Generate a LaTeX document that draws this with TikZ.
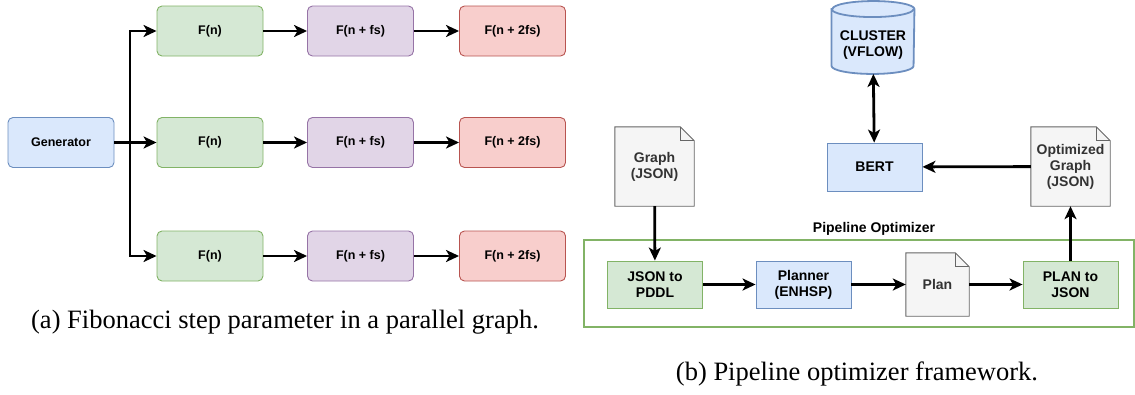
\documentclass[tikz,border=0pt]{standalone}
\usepackage{fontspec}
\setmainfont{Liberation Serif}
\newfontfamily\boxfont{Liberation Sans}
\usetikzlibrary{ arrows.meta,  % For the heavy arrow heads
                 backgrounds,  % For filling the pages and the drum behind text
               }

\definecolor{bluefill}{HTML}{DAE8FC}  \definecolor{blueline}{HTML}{6C8EBF}
\definecolor{greenfill}{HTML}{D5E8D4} \definecolor{greenline}{HTML}{82B366}
\definecolor{lilafill}{HTML}{E1D5E7}  \definecolor{lilaline}{HTML}{9673A6}
\definecolor{redfill}{HTML}{F8CECC}   \definecolor{redline}{HTML}{B85450}
\definecolor{pagefill}{HTML}{F5F5F5}  \definecolor{pageline}{HTML}{666666}
\definecolor{pagetext}{HTML}{333333}

\tikzset{
  stepbox/.style={rounded corners=5pt, line width=0.9pt, minimum width=106pt,
                  minimum height=50pt, inner sep=0pt,
                  font=\boxfont\bfseries\fontsize{12.5}{15}\selectfont},
  flowbox/.style={line width=0.9pt, minimum width=95pt, minimum height=47pt,
                  inner sep=0pt, align=center,
                  font=\boxfont\bfseries\fontsize{14}{16}\selectfont},
  page/.style={minimum width=79pt, minimum height=79pt, inner sep=0pt,
               align=center, text=pagetext,
               font=\boxfont\bfseries\fontsize{14}{16}\selectfont},
  pageline/.style={draw=pageline, fill=pagefill, line width=0.9pt},
  link/.style={line width=2.8pt, -{Stealth[length=13pt, width=12pt, inset=3.5pt]}},
  twolink/.style={line width=2.8pt,
                  {Stealth[length=13pt, width=12pt, inset=3.5pt]}-{Stealth[length=13pt, width=12pt, inset=3.5pt]}},
  caption/.style={font=\fontsize{26.5}{30}\selectfont, anchor=base},
}

% a sheet of paper with a folded corner behind node #1
\newcommand{\foldpage}[1]{%
  \begin{scope}[on background layer]
    \filldraw[pageline] (#1.north west) -- ([xshift=-14pt]#1.north east)
      -- ([yshift=-14pt]#1.north east) -- (#1.south east) -- (#1.south west) -- cycle;
    \draw[pageline, fill=none] ([xshift=-14pt]#1.north east) |- ([yshift=-14pt]#1.north east);
  \end{scope}}

\begin{document}
\begin{tikzpicture}[x=1pt, y=-1pt] % one unit is one pixel of the drawing
  \useasboundingbox (0,0) rectangle (1135,394);

  % (a) parallel graph
  \node[stepbox, draw=blueline, fill=bluefill] (gen) at (61,142.5) {Generator};

  \node[stepbox, draw=greenline, fill=greenfill] (fn_one) at (210,31) {F(n)};
  \node[stepbox, draw=greenline, fill=greenfill] (fn_two) at (210,142.5) {F(n)};
  \node[stepbox, draw=greenline, fill=greenfill] (fn_three) at (210,256) {F(n)};

  \node[stepbox, draw=lilaline, fill=lilafill] (fs_one) at (360.5,31) {F(n + fs)};
  \node[stepbox, draw=lilaline, fill=lilafill] (fs_two) at (360.5,142.5) {F(n + fs)};
  \node[stepbox, draw=lilaline, fill=lilafill] (fs_three) at (360.5,256) {F(n + fs)};

  \node[stepbox, draw=redline, fill=redfill] (twofs_one) at (512.5,31) {F(n + 2fs)};
  \node[stepbox, draw=redline, fill=redfill] (twofs_two) at (512.5,142.5) {F(n + 2fs)};
  \node[stepbox, draw=redline, fill=redfill] (twofs_three) at (512.5,256) {F(n + 2fs)};

  \coordinate (split) at (130,142.5);

  \draw[link] (gen) -- (fn_two);
  \draw[link] (split) |- (fn_one);
  \draw[link] (split) |- (fn_three);
  \draw[link] (fn_one) -- (fs_one);
  \draw[link] (fn_two) -- (fs_two);
  \draw[link] (fn_three) -- (fs_three);
  \draw[link] (fs_one) -- (twofs_one);
  \draw[link] (fs_two) -- (twofs_two);
  \draw[link] (fs_three) -- (twofs_three);

  \node[caption] (cap_a) at (285,328) {(a) Fibonacci step parameter in a parallel graph.};

  % (b) pipeline optimizer
  \node[draw=greenline, line width=2pt, minimum width=550pt, minimum height=87pt] (optimizer) at (859,283.5) {};
  \node[font=\boxfont\bfseries\fontsize{14}{16}\selectfont] (optimizer_lbl) at (874,229) {Pipeline Optimizer};

  \node[flowbox, minimum width=82pt, minimum height=56pt] (cluster) at (873,45.5) {CLUSTER\\(VFLOW)};
  \begin{scope}[on background layer]
    \filldraw[draw=blueline, fill=bluefill, line width=1.8pt]
      ([yshift=8pt]cluster.north west) -- ([yshift=8pt]cluster.south west)
      arc[start angle=180, end angle=360, x radius=41pt, y radius=8pt]
      -- ([yshift=8pt]cluster.north east)
      arc[start angle=0, end angle=180, x radius=41pt, y radius=8pt] -- cycle;
    \draw[draw=blueline, line width=1.8pt] ([yshift=8pt]cluster.north west)
      arc[start angle=180, end angle=360, x radius=41pt, y radius=8pt];
  \end{scope}

  \node[flowbox, draw=blueline, fill=bluefill, minimum height=48pt] (bert) at (874.5,167) {BERT};
  \node[page] (graph_in) at (654.5,166.5) {Graph\\(JSON)};
  \node[page] (graph_out) at (1070.5,166.5) {Optimized\\Graph\\(JSON)};
  \foldpage{graph_in}
  \foldpage{graph_out}

  \node[flowbox, draw=greenline, fill=greenfill] (json_pddl) at (655,284.5) {JSON to\\PDDL};
  \node[flowbox, draw=blueline, fill=bluefill] (planner) at (803.5,284.5) {Planner\\(ENHSP)};
  \node[page, minimum width=63pt, minimum height=63pt] (plan) at (937.5,284.5) {Plan};
  \foldpage{plan}
  \node[flowbox, draw=greenline, fill=greenfill] (plan_json) at (1070.5,284.5) {PLAN to\\JSON};

  \draw[twolink] (cluster) -- (bert);
  \draw[link] (graph_out) -- (bert);
  \draw[link] (graph_in) -- (json_pddl);
  \draw[link] (json_pddl) -- (planner);
  \draw[link] (planner) -- (plan);
  \draw[link] (plan) -- (plan_json);
  \draw[link] (plan_json) -- (graph_out);

  \node[caption] (cap_b) at (857,380) {(b) Pipeline optimizer framework.};
\end{tikzpicture}
\end{document}
